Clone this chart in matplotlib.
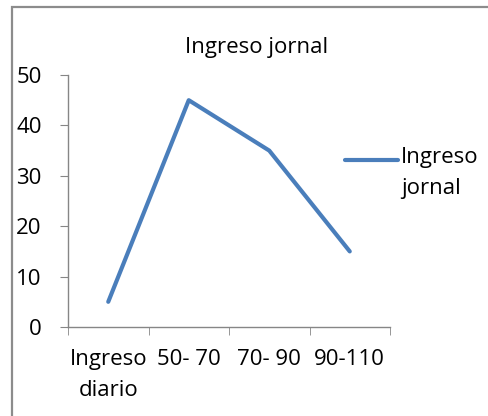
import matplotlib
matplotlib.use('Agg')
import matplotlib.pyplot as plt
from matplotlib.patches import Rectangle
from matplotlib.lines import Line2D

categories = ['Ingreso\ndiario', '50- 70', '70- 90', '90-110']
values = [5, 45, 35, 15]
series_name = 'Ingreso jornal'
title = 'Ingreso jornal'

plt.rcParams['font.family'] = ['Open Sans', 'DejaVu Sans']
line_color = '#4a7ebb'
axis_color = '#868686'
fs = 16

fig = plt.figure(figsize=(4.89, 4.16), dpi=100)
ax = fig.add_axes([68 / 489, 1 - 327 / 416, 322 / 489, 252 / 416])

x = list(range(len(values)))
ax.plot(x, values, color=line_color, linewidth=3, solid_capstyle='round')
ax.set_xlim(-0.5, len(values) - 0.5)
ax.set_ylim(0, 50)
ax.set_yticks(range(0, 51, 10))
ax.set_xticks(x)
ax.set_xticklabels(categories, fontsize=fs, linespacing=1.6)
ax.set_xticks([i - 0.5 for i in range(len(values) + 1)], minor=True)
ax.tick_params(axis='x', which='major', length=0, pad=16)
ax.tick_params(axis='x', which='minor', length=6, color=axis_color, direction='out')
ax.tick_params(axis='y', length=6, color=axis_color, direction='out', labelsize=fs, pad=13)
for s in ['top', 'right']:
    ax.spines[s].set_visible(False)
for s in ['left', 'bottom']:
    ax.spines[s].set_color(axis_color)
    ax.spines[s].set_linewidth(1)

fig.text(257 / 489, 1 - 47 / 416, title, ha='center', va='center', fontsize=fs)

# legend
fig.add_artist(Line2D([345 / 489, 398 / 489], [1 - 160 / 416, 1 - 160 / 416],
                      transform=fig.transFigure, color=line_color, linewidth=3,
                      solid_capstyle='round'))
fig.text(401 / 489, 1 - 147 / 416, series_name.replace(' ', '\n'), ha='left', va='top',
         fontsize=fs, linespacing=1.6, transform=fig.transFigure)

# chart area border
fig.add_artist(Rectangle((12 / 489, -0.1), 1.2, 1 - 7 / 416 + 0.1, transform=fig.transFigure,
                         fill=False, edgecolor='#8c8c8c', linewidth=1.6, clip_on=False))

fig.savefig('out.png', dpi=100)
